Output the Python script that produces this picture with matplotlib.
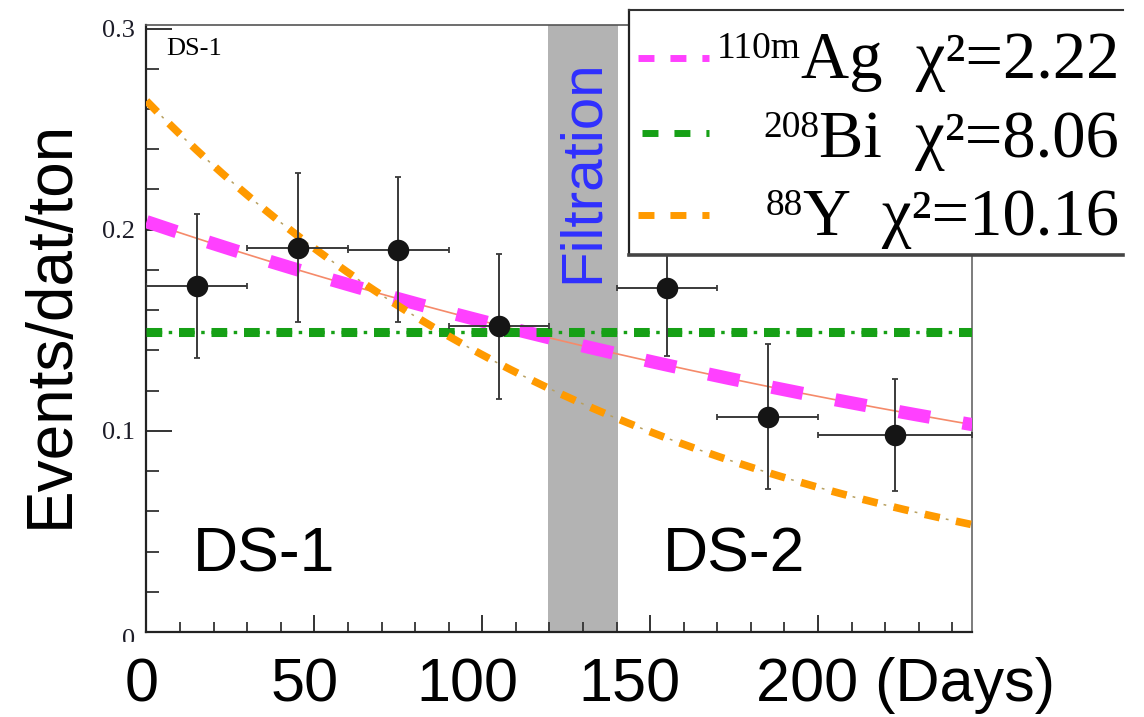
import numpy as np
import matplotlib
matplotlib.use("Agg")
import matplotlib.pyplot as plt
from matplotlib.lines import Line2D
from matplotlib.patches import Rectangle
from matplotlib.ticker import MultipleLocator
from matplotlib.transforms import ScaledTranslation, Bbox

W, H, DPI = 1144, 717, 100
plt.rcParams["font.family"] = ["Liberation Sans", "DejaVu Sans"]
plt.rcParams["lines.scale_dashes"] = False

# Measured rates per time bin (centre, half width in days)
days_mid = [15, 45, 75, 105, 155, 185, 223]
days_halfwidth = [15, 15, 15, 15, 15, 15, 23]
rate = [0.172, 0.191, 0.190, 0.152, 0.171, 0.107, 0.098]
rate_err = [0.036, 0.037, 0.036, 0.036, 0.034, 0.036, 0.028]

# Decay hypotheses fitted to the rates
isotope_mass = ["110m", "208", "88"]
element = ["Ag", "Bi", "Y"]
chi2 = ["2.22", "8.06", "10.16"]
rate_at_t0 = [0.204, 0.149, 0.264]
half_life_days = [249.8, np.inf, 106.6]

filtration_days = (119.5, 140.5)
x_max, y_max = 246, 0.302

SERIF = ["Liberation Serif", "DejaVu Serif"]


def fpx(x, y):
    """Pixel position (from top-left) to figure fraction."""
    return x / W, 1 - y / H


fig = plt.figure(figsize=(W / DPI, H / DPI), dpi=DPI)
ax = fig.add_axes([146.5 / W, 1 - 632 / H, (972.5 - 146.5) / W, (632 - 24.5) / H])
ax.set_xlim(0, x_max)
ax.set_ylim(0, y_max)

# Filtration period
ax.axvspan(*filtration_days, color="#b3b3b3", lw=0, zorder=1)
ax.text(np.mean(filtration_days), 0.229, "Filtration", rotation=90,
        ha="center", va="center", color="#2f2fff", fontsize=42, zorder=6)

# Fit curves
t = np.linspace(0, x_max, 600)
curves = [a * np.power(2.0, -t / T) for a, T in zip(rate_at_t0, half_life_days)]

styles = [
    # (thin colour, thin lw, thin dashes, thick colour, thick lw, thick dashes)
    ("#f58a6a", 1.2, None, "#ff40ff", 9.5, (0, (22.8, 23.8))),
    ("#16a016", 2.4, (0, (11.3, 4.7, 2.5, 4.9)), "#16a016", 6.5, (0, (11.3, 12.1))),
    ("#b8a060", 1.1, (0, (11, 4.5, 2, 5.5)), "#ff9a00", 5.5, (0, (11, 12))),
]
for y, (tc, tlw, tls, kc, klw, kls) in zip(curves, styles):
    ax.plot(t, y, color=tc, lw=tlw, ls=tls if tls else "-", zorder=2,
            solid_capstyle="butt", dash_capstyle="butt")
    ax.plot(t, y, color=kc, lw=klw, ls=kls, zorder=3, dash_capstyle="butt")

# Data points
ax.errorbar(days_mid, rate, xerr=days_halfwidth, yerr=rate_err, fmt="none",
            ecolor="#3a3a3a", elinewidth=1.4, capsize=2.2, capthick=1.3, zorder=4)
ax.plot(days_mid, rate, "o", color="#151515", ms=15.5, mew=0, zorder=5)

# Labels inside the frame
ax.text(13.8, 0.030, "DS-1", fontsize=45, ha="left", va="baseline", zorder=6)
ax.text(153.8, 0.030, "DS-2", fontsize=45, ha="left", va="baseline", zorder=6)
ax.text(6.0, 0.287, "DS-1", fontsize=19, family=SERIF, ha="left", va="baseline",
        zorder=6)

# Frame
for side, lw, c in [("left", 1.6, "#222222"), ("bottom", 1.6, "#222222"),
                    ("top", 1.2, "#555555"), ("right", 1.2, "#666666")]:
    ax.spines[side].set_linewidth(lw)
    ax.spines[side].set_color(c)

# Ticks
ax.set_xticks([0, 50, 100, 150, 200])
ax.set_xticklabels(["0", "50", "100", "150", "200 (Days)"])
ax.xaxis.set_minor_locator(MultipleLocator(10))
ax.set_yticks([0, 0.1, 0.2, 0.3])
ax.set_yticklabels(["0", "0.1", "0.2", "0.3"])
ax.yaxis.set_minor_locator(MultipleLocator(0.02))
ax.tick_params(axis="x", which="major", direction="in", length=12.2, width=1.4,
               color="#333333", pad=18, labelsize=44)
ax.tick_params(axis="x", which="minor", direction="in", length=7.2, width=1.3,
               color="#333333")
ax.tick_params(axis="y", which="major", direction="in", length=18.7, width=1.4,
               color="#333333", pad=8.3, labelsize=19, labelcolor="#1c1c28")
ax.tick_params(axis="y", which="minor", direction="in", length=9.4, width=1.3,
               color="#333333")
for lbl in ax.get_yticklabels():
    lbl.set_family(SERIF)

x_shift = [-5, -10, -15, -21, -62]
for lbl, dx in zip(ax.get_xticklabels(), x_shift):
    lbl.set_transform(lbl.get_transform() + ScaledTranslation(dx / DPI, 0, fig.dpi_scale_trans))
ax.get_xticklabels()[-1].set_ha("left")

# y label "0" sits partly under the x labels
ylbls = ax.get_yticklabels()
ylbls[0].set_transform(ylbls[0].get_transform() + ScaledTranslation(0, -6 / DPI, fig.dpi_scale_trans))
ylbls[0].set_clip_box(Bbox.from_extents(0, H - 642, W, H))
ylbls[0].set_clip_on(True)

fig.text(*fpx(68, 324), "Events/dat/ton", rotation=90, rotation_mode="anchor",
         ha="center", va="baseline", fontsize=46)

# Legend box
LX0, LX1, LY0, LY1 = 629, 1123, 10, 255
fig.add_artist(Rectangle(fpx(LX0, LY1), (LX1 - LX0) / W, (LY1 - LY0) / H,
                         transform=fig.transFigure, facecolor="white",
                         edgecolor="none", zorder=10))
for xs, ys, lw, c in [((LX0, LX0), (LY0, LY1), 1.6, "#222222"),
                      ((LX0, LX1), (LY0, LY0), 1.5, "#333333"),
                      ((LX0, LX1), (LY1, LY1), 2.6, "#444444")]:
    fig.add_artist(Line2D([x / W for x in xs], [1 - y / H for y in ys],
                          transform=fig.transFigure, lw=lw, color=c, zorder=11,
                          solid_capstyle="projecting"))

sample_y = [58, 133, 215]
sample_x0 = [638, 642, 638]
sample_col = ["#ff40ff", "#16a016", "#ff9a00"]
baselines = [78, 157, 235]
renderer = fig.canvas.get_renderer()
for i in range(3):
    fig.add_artist(Line2D([sample_x0[i] / W, 709 / W],
                          [1 - sample_y[i] / H] * 2, transform=fig.transFigure,
                          lw=5, color=sample_col[i], ls=(0, (11.5, 11.5)),
                          dash_capstyle="butt", zorder=12))
    main = fig.text(*fpx(1119, baselines[i]), f"{element[i]}  χ²={chi2[i]}",
                    ha="right", va="baseline", fontsize=48, family=SERIF,
                    zorder=12)
    bb = main.get_window_extent(renderer)
    fig.text(bb.x0 / W, 1 - (baselines[i] - 20) / H, isotope_mass[i],
             ha="right", va="baseline", fontsize=27, family=SERIF, zorder=12)

fig.savefig("out.png", dpi=DPI)
